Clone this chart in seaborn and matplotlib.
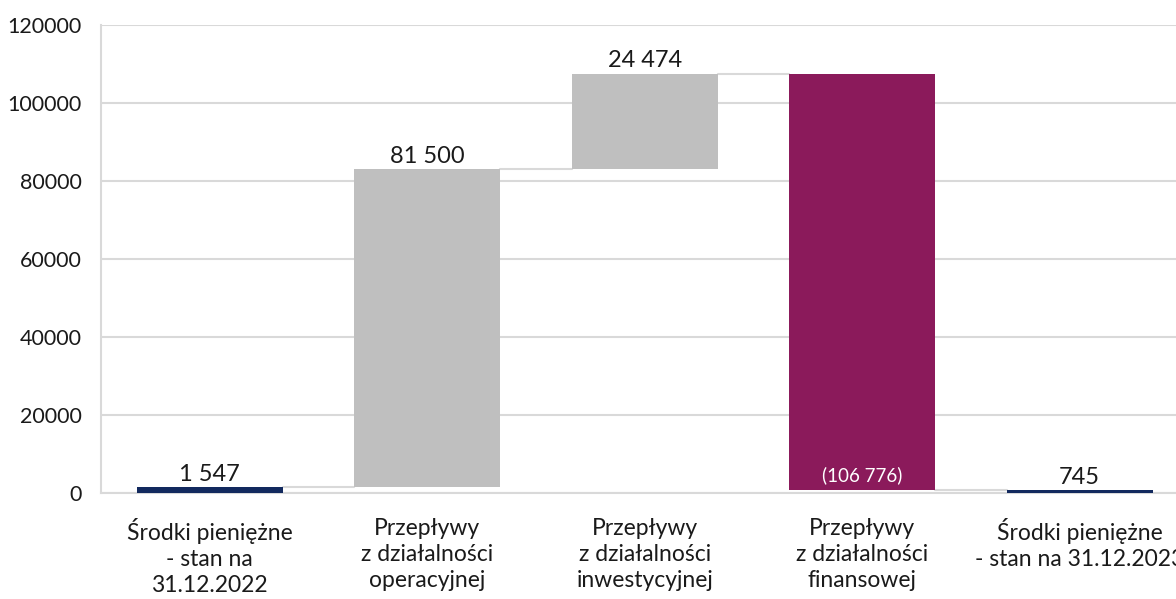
import numpy as np
import pandas as pd
import seaborn as sns
import matplotlib.pyplot as plt

sns.set_style("white")
plt.rcParams['font.family'] = ['Lato', 'DejaVu Sans']

categories = ["Środki pieniężne\n- stan na\n31.12.2022",
              "Przepływy\nz działalności\noperacyjnej",
              "Przepływy\nz działalności\ninwestycyjnej",
              "Przepływy\nz działalności\nfinansowej",
              "Środki pieniężne\n- stan na 31.12.2023"]
changes = [1547, 81500, 24474, -106776, 745]
kinds = ["total", "delta", "delta", "delta", "total"]
colors = {"total": "#12295e", "delta": "#bfbfbf", "neg": "#8b1a5b"}

# waterfall: floating bars
level = 0
bottoms, heights, ends = [], [], []
for v, k in zip(changes, kinds):
    if k == "total":
        bottoms.append(0)
        heights.append(v)
        level = v
    else:
        if v >= 0:
            bottoms.append(level)
            heights.append(v)
        else:
            bottoms.append(level + v)
            heights.append(-v)
        level = level + v
    ends.append(level)

df = pd.DataFrame({"cat": categories, "h": heights})

fig = plt.figure(figsize=(11.76, 5.99), dpi=100)
ax = fig.add_axes([101/1176, 1-493/599, 1087.5/1176, 468/599])

sns.barplot(data=df, x="cat", y="h", bottom=bottoms, width=0.67,
            color="#bfbfbf", saturation=1, errorbar=None, ax=ax, zorder=3)

for i, p in enumerate(ax.patches):
    if kinds[i] == "total":
        p.set_facecolor(colors["total"])
    elif changes[i] < 0:
        p.set_facecolor(colors["neg"])
    else:
        p.set_facecolor(colors["delta"])
    p.set_edgecolor("none")

# connectors
for i in range(len(changes) - 1):
    ax.plot([i + 0.335, i + 1 - 0.335], [ends[i], ends[i]], color="#d9d9d9",
            lw=1.5, zorder=2)

def fmt(v):
    s = f"{abs(v):,}".replace(",", " ")
    return f"({s})" if v < 0 else s

for i, v in enumerate(changes):
    if v < 0:
        ax.text(i, bottoms[i] + 1500, fmt(v), ha="center", va="bottom",
                color="white", fontsize=13.5, zorder=4)
    else:
        ax.text(i, bottoms[i] + heights[i] + 600, fmt(v), ha="center",
                va="bottom", color="#1a1a1a", fontsize=17, zorder=4)

ax.set_ylim(0, 120000)
ax.set_xlim(-0.5, 4.5)
ax.set_yticks(np.arange(0, 120001, 20000))
ax.yaxis.grid(True, color="#d9d9d9", lw=1.5, zorder=0)
ax.set_axisbelow(True)
ax.set_xlabel("")
ax.set_ylabel("")
for s in ["top", "right"]:
    ax.spines[s].set_visible(False)
for s in ["left", "bottom"]:
    ax.spines[s].set_color("#d9d9d9")
    ax.spines[s].set_linewidth(1.5)
ax.tick_params(axis="y", length=0, pad=14, labelsize=15.5, labelcolor="#1a1a1a")
ax.tick_params(axis="x", length=0, pad=18, labelsize=16.5, labelcolor="#1a1a1a")
for t in ax.get_xticklabels():
    t.set_linespacing(1.3)

fig.savefig("out.png", dpi=100)
